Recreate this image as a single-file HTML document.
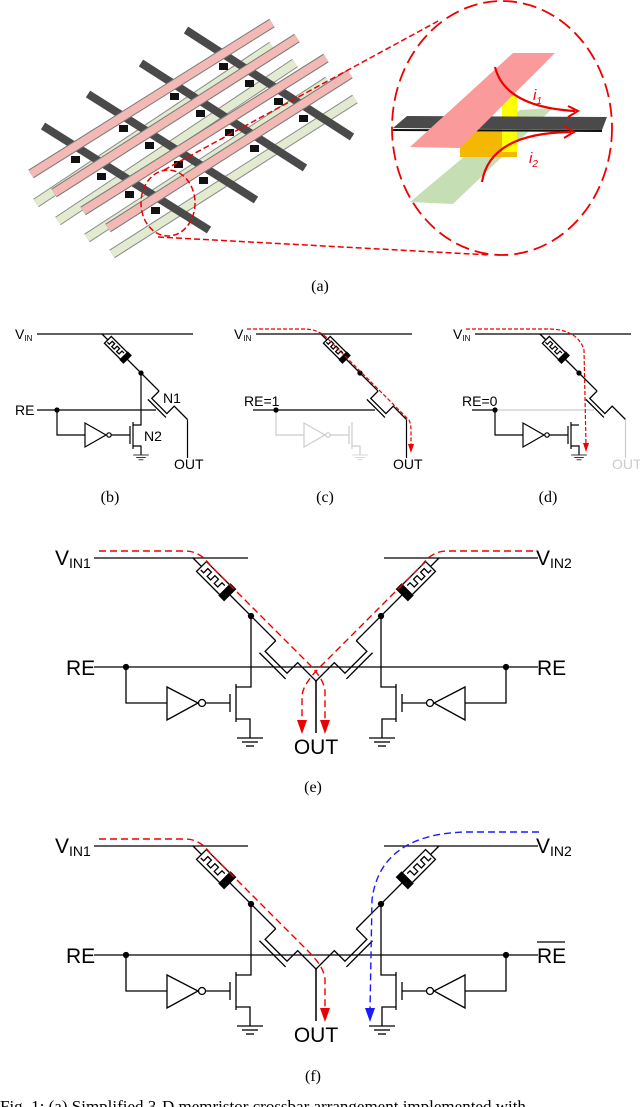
<!DOCTYPE html>
<html><head><meta charset="utf-8"><style>
html,body{margin:0;padding:0;background:#fff;}
svg{display:block;}
text{font-family:"Liberation Sans",Arial,sans-serif;}
.cap{font-family:"Liberation Serif",serif;font-size:16px;}
</style></head><body>
<svg width="640" height="1107" viewBox="0 0 640 1107" xmlns="http://www.w3.org/2000/svg">
<defs>
<g id="br" fill="none" stroke="#000" stroke-width="1.3">
  <line x1="0" y1="0" x2="12" y2="0" vector-effect="non-scaling-stroke"/>
  <rect x="12" y="-7" width="33" height="14" fill="#fff" vector-effect="non-scaling-stroke"/>
  <path d="M14,3 h4 v-6 h5 v6 h5 v-6 h5 v6 h5 v-6 h4" vector-effect="non-scaling-stroke"/>
  <rect x="45" y="-8" width="7" height="16" fill="#000"/>
  <line x1="52" y1="0" x2="117" y2="0" vector-effect="non-scaling-stroke"/>
  <path d="M117,0 L117,15 L148,15 L148,0 L175,0" vector-effect="non-scaling-stroke"/>
  <line x1="114" y1="20" x2="151" y2="20" vector-effect="non-scaling-stroke"/>
</g>
<g id="gnd" stroke="#000" stroke-width="1.3">
  <line x1="-13" y1="0" x2="13" y2="0"/><line x1="-8" y1="4" x2="8" y2="4"/><line x1="-4" y1="8" x2="4" y2="8"/>
</g>
<g id="half" fill="none" stroke="#000" stroke-width="1.3">
  <line x1="94" y1="558" x2="248" y2="558"/>
  <use href="#br" transform="translate(193,558) rotate(45)"/>
  <circle cx="251" cy="616" r="2.5" fill="#000"/>
  <path d="M251,616 V687 H236"/>
  <line x1="236" y1="684" x2="236" y2="722"/>
  <line x1="230" y1="694" x2="230" y2="712"/>
  <line x1="230" y1="703" x2="206" y2="703"/>
  <circle cx="202" cy="703" r="3.5" fill="#fff"/>
  <polygon points="167,687 167,720 198,703" fill="#fff"/>
  <path d="M167,703 H126 V667"/>
  <circle cx="126" cy="667" r="2.5" fill="#000"/>
  <line x1="94" y1="667" x2="316" y2="667"/>
  <path d="M236,719 H250 V738"/>
  <use href="#gnd" x="250" y="738"/>
  <line x1="316" y1="682" x2="316" y2="733"/>
</g>
</defs>

<!-- (a) crossbar -->
<g stroke-linecap="butt">
  <g stroke="#8a8a8a" stroke-width="10">
    <line x1="36" y1="203" x2="272" y2="46"/><line x1="58" y1="221" x2="295" y2="63"/>
    <line x1="87" y1="238" x2="328" y2="81"/><line x1="112" y1="254" x2="355" y2="99"/>
  </g>
  <g stroke="#e2ebd0" stroke-width="8">
    <line x1="36" y1="203" x2="272" y2="46"/><line x1="58" y1="221" x2="295" y2="63"/>
    <line x1="87" y1="238" x2="328" y2="81"/><line x1="112" y1="254" x2="355" y2="99"/>
  </g>
  <g stroke="#4a4a4a" stroke-width="8">
    <line x1="186" y1="30" x2="352" y2="137"/><line x1="141" y1="63" x2="305" y2="168"/>
    <line x1="88" y1="94" x2="256" y2="200"/><line x1="43" y1="126" x2="209" y2="230"/>
  </g>
  <g fill="#111" transform="translate(0,7)">
    <rect x="219" y="56" width="9" height="7"/><rect x="170" y="86" width="9" height="7"/>
    <rect x="119" y="118" width="9" height="7"/><rect x="71" y="149" width="9" height="7"/>
    <rect x="245" y="73" width="9" height="7"/><rect x="196" y="103" width="9" height="7"/>
    <rect x="145" y="135" width="9" height="7"/><rect x="97" y="166" width="9" height="7"/>
    <rect x="274" y="91" width="9" height="7"/><rect x="225" y="122" width="9" height="7"/>
    <rect x="174" y="154" width="9" height="7"/><rect x="125" y="184" width="9" height="7"/>
    <rect x="299" y="108" width="9" height="7"/><rect x="250" y="138" width="9" height="7"/>
    <rect x="199" y="170" width="9" height="7"/><rect x="151" y="200" width="9" height="7"/>
  </g>
  <g stroke="#777" stroke-width="10">
    <line x1="31" y1="174" x2="272" y2="23"/><line x1="54" y1="193" x2="297" y2="38"/>
    <line x1="83" y1="211" x2="326" y2="58"/><line x1="108" y1="228" x2="350" y2="74"/>
  </g>
  <g stroke="#f2b9b5" stroke-width="8">
    <line x1="31" y1="174" x2="272" y2="23"/><line x1="54" y1="193" x2="297" y2="38"/>
    <line x1="83" y1="211" x2="326" y2="58"/><line x1="108" y1="228" x2="350" y2="74"/>
  </g>
</g>
<!-- zoom callout -->
<g fill="none" stroke="#e00" stroke-width="1.5" stroke-dasharray="6,3">
  <ellipse cx="168" cy="203" rx="27" ry="33"/>
  <line x1="164" y1="170" x2="440" y2="20"/>
  <line x1="158" y1="237" x2="490" y2="255"/>
</g>
<ellipse cx="502" cy="128" rx="110" ry="127" fill="none" stroke="#e00" stroke-width="1.8" stroke-dasharray="14,6"/>
<polygon points="410,202 453,204 553,108 520,110" fill="#c6deb4"/>
<polygon points="460,117 517,117 517,157 460,157" fill="#f5b800"/>
<polygon points="502,95 517,95 517,152 502,152" fill="#ffff00"/>
<polygon points="393,128 407,116 607,117 602,130" fill="#4a4a4a"/>
<line x1="393" y1="130" x2="602" y2="131" stroke="#111" stroke-width="2"/>
<polygon points="410,147 460,148 555,53 513,53" fill="#fa9a9a"/>
<g fill="none" stroke="#e00" stroke-width="2.2">
  <path d="M495,67 Q505,107 575,111"/>
  <path d="M482,182 Q490,133 571,132"/>
</g>
<g fill="none" stroke="#e00" stroke-width="2"><path d="M568,106 L578,111 L568,117"/><path d="M564,126 L574,132 L564,138"/></g>
<text x="533" y="100" fill="#e00" font-size="15" font-style="italic">i<tspan font-size="10" dy="4">1</tspan></text>
<text x="529" y="163" fill="#e00" font-size="15" font-style="italic">i<tspan font-size="10" dy="4">2</tspan></text>
<text class="cap" x="320" y="291" text-anchor="middle">(a)</text>

<!-- (b) -->
<g fill="none" stroke="#000" stroke-width="1.2">
  <line x1="37" y1="334" x2="193" y2="334"/>
  <use href="#br" transform="translate(102,334) rotate(45) scale(0.69)"/>
  <line x1="187.5" y1="419.5" x2="187.5" y2="458"/>
  <circle cx="141" cy="373" r="2" fill="#000"/>
  <path d="M141,373 V425 H133"/>
  <line x1="133" y1="422" x2="133" y2="449"/>
  <line x1="130" y1="426" x2="130" y2="444"/>
  <line x1="130" y1="435" x2="111" y2="435"/>
  <circle cx="109" cy="435" r="2.2" fill="#fff"/>
  <polygon points="85,423 85,447 106,435" fill="#fff"/>
  <path d="M85,435 H57 V410"/>
  <circle cx="57" cy="410" r="2" fill="#000"/>
  <line x1="37" y1="410" x2="156" y2="410"/>
  <path d="M133,446 H141 V455"/>
  <g transform="translate(141,455) scale(0.6)"><use href="#gnd"/></g>
</g>
<text x="15" y="339" font-size="14">V<tspan font-size="8" dy="2">IN</tspan></text>
<text x="15" y="415" font-size="14">RE</text>
<text x="163" y="403" font-size="14">N1</text>
<text x="144" y="441" font-size="14">N2</text>
<text x="174" y="469" font-size="14">OUT</text>
<text class="cap" x="110" y="502" text-anchor="middle">(b)</text>

<!-- (c) -->
<g transform="translate(219,0)">
<g fill="none" stroke="#ccc" stroke-width="1.2">
  <line x1="130" y1="426" x2="130" y2="444"/>
  <line x1="133" y1="422" x2="133" y2="449"/>
  <line x1="130" y1="435" x2="111" y2="435"/>
  <circle cx="109" cy="435" r="2.2" fill="#fff"/>
  <polygon points="85,423 85,447 106,435" fill="#fff"/>
  <path d="M85,435 H57 V410"/>
  <path d="M133,446 H141 V455"/>
  <g transform="translate(141,455) scale(0.6)"><line x1="-13" y1="0" x2="13" y2="0"/><line x1="-8" y1="4" x2="8" y2="4"/><line x1="-4" y1="8" x2="4" y2="8"/></g>
</g>
<g fill="none" stroke="#000" stroke-width="1.2">
  <line x1="37" y1="334" x2="193" y2="334"/>
  <use href="#br" transform="translate(102,334) rotate(45) scale(0.69)"/>
  <line x1="187.5" y1="419.5" x2="187.5" y2="458"/>
  <circle cx="141" cy="373" r="2" fill="#000"/>
  <circle cx="57" cy="410" r="2" fill="#000"/>
  <line x1="34" y1="410" x2="156" y2="410"/>
</g>
<path d="M28,329 L85,329 Q99,329 108,338 L190,420 Q192,424 192,430 L192,446" fill="none" stroke="#e00" stroke-width="1.2" stroke-dasharray="4,2"/>
<polygon points="189,444 195,444 192,453" fill="#e00"/>
<text x="15" y="339" font-size="14">V<tspan font-size="8" dy="2">IN</tspan></text>
<text x="25" y="406" font-size="14">RE=1</text>
<text x="174" y="469" font-size="14">OUT</text>
<text class="cap" x="106" y="502" text-anchor="middle">(c)</text>
</g>

<!-- (d) -->
<g transform="translate(438,0)">
<g fill="none" stroke="#ccc" stroke-width="1.2">
  <use href="#br" transform="translate(102,334) rotate(45) scale(0.69)" style="stroke:#ccc"/>
  <line x1="187.5" y1="419.5" x2="187.5" y2="458"/>
  <line x1="57" y1="410" x2="156" y2="410"/>
</g>
<g fill="none" stroke="#000" stroke-width="1.2">
  <line x1="37" y1="334" x2="193" y2="334"/>
  <line x1="102" y1="334" x2="110" y2="342"/>
  <g transform="translate(102,334) rotate(45) scale(0.69)">
    <rect x="12" y="-7" width="33" height="14" fill="#fff" vector-effect="non-scaling-stroke"/>
    <path d="M14,3 h4 v-6 h5 v6 h5 v-6 h5 v6 h5 v-6 h4" vector-effect="non-scaling-stroke"/>
    <rect x="45" y="-8" width="7" height="16" fill="#000"/>
    <line x1="52" y1="0" x2="58" y2="0" vector-effect="non-scaling-stroke"/>
  </g>
  <circle cx="141" cy="373" r="2" fill="#000"/>
  <path d="M141,425 H133"/>
  <line x1="133" y1="422" x2="133" y2="449"/>
  <line x1="130" y1="426" x2="130" y2="444"/>
  <line x1="130" y1="435" x2="111" y2="435"/>
  <circle cx="109" cy="435" r="2.2" fill="#fff"/>
  <polygon points="85,423 85,447 106,435" fill="#fff"/>
  <path d="M85,435 H57 V410"/>
  <circle cx="57" cy="410" r="2" fill="#000"/>
  <line x1="34" y1="410" x2="57" y2="410"/>
  <path d="M133,446 H141 V455"/>
  <g transform="translate(141,455) scale(0.6)"><use href="#gnd"/></g>
</g>
<path d="M28,329 L112,329 Q140,330 146,350 L148,445" fill="none" stroke="#e00" stroke-width="1.2" stroke-dasharray="4,2"/>
<polygon points="145,443 151,443 148,452" fill="#e00"/>
<text x="15" y="339" font-size="14">V<tspan font-size="8" dy="2">IN</tspan></text>
<text x="24" y="406" font-size="14">RE=0</text>
<text x="174" y="469" font-size="14" fill="#ccc">OUT</text>
<text class="cap" x="110" y="502" text-anchor="middle">(d)</text>
</g>

<!-- (e) -->
<use href="#half"/>
<use href="#half" transform="translate(632,0) scale(-1,1)"/>
<g fill="none" stroke="#e00" stroke-width="1.4" stroke-dasharray="7,4">
  <path d="M99,551 L185,551 Q200,551 210,565 L308,663 Q325,680 325,692 L325,722"/>
  <path d="M533,551 L447,551 Q432,551 422,565 L320,667 Q302,685 302,697 L302,722"/>
</g>
<polygon points="320,720 330,720 325,734" fill="#e00"/>
<polygon points="297,720 307,720 302,734" fill="#e00"/>
<text x="55" y="565" font-size="21">V<tspan font-size="14" dy="3">IN1</tspan></text>
<text x="536" y="565" font-size="21">V<tspan font-size="14" dy="3">IN2</tspan></text>
<text x="66" y="675" font-size="21">RE</text>
<text x="537" y="675" font-size="21">RE</text>
<text x="316" y="754" font-size="21" text-anchor="middle">OUT</text>
<text class="cap" x="313" y="792" text-anchor="middle">(e)</text>

<!-- (f) -->
<g transform="translate(0,288)">
<use href="#half"/>
<use href="#half" transform="translate(632,0) scale(-1,1)"/>
<path d="M99,551 L185,551 Q200,551 210,565 L308,663 Q325,680 325,692 L325,722" fill="none" stroke="#e00" stroke-width="1.4" stroke-dasharray="7,4"/>
<polygon points="320,720 330,720 325,734" fill="#e00"/>
<path d="M539,544 L464,544 Q380,547 372,612 L370,722" fill="none" stroke="#1a1aff" stroke-width="1.4" stroke-dasharray="7,4"/>
<polygon points="365,720 375,720 370,734" fill="#1a1aff"/>
<text x="55" y="565" font-size="21">V<tspan font-size="14" dy="3">IN1</tspan></text>
<text x="536" y="565" font-size="21">V<tspan font-size="14" dy="3">IN2</tspan></text>
<text x="66" y="675" font-size="21">RE</text>
<text x="537" y="675" font-size="21">RE</text>
<line x1="537" y1="654" x2="565" y2="654" stroke="#000" stroke-width="1.3"/>
<text x="316" y="754" font-size="21" text-anchor="middle">OUT</text>
</g>
<text class="cap" x="313" y="1081" text-anchor="middle">(f)</text>
<text class="cap" x="0" y="1112" style="font-size:17px">Fig. 1:  (a) Simplified 3-D memristor crossbar arrangement implemented with</text>
</svg>
</body></html>
